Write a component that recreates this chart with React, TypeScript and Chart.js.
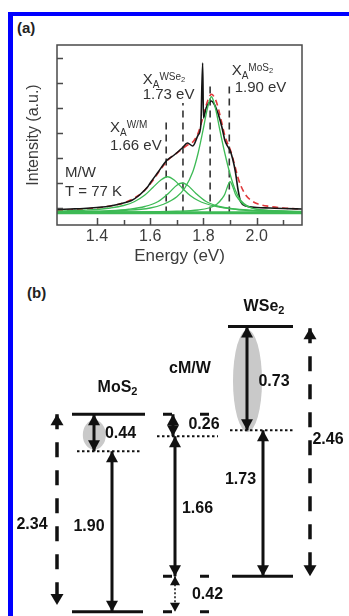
import React, { useEffect, useRef } from "react";
import { Chart, registerables } from "chart.js";

Chart.register(...registerables);

const FONT = "'Liberation Sans', Arial, Helvetica, sans-serif";

// ---------------- Panel (a): PL spectrum ----------------
const energyTicks = [1.4, 1.5, 1.6, 1.7, 1.8, 1.9, 2.0, 2.1];
const energyLabels = [1.4, 1.6, 1.8, 2.0];
const intensityTicks = [0, 1, 2, 3, 4, 5, 6];

const measuredE = [1.25, 1.3, 1.35, 1.4, 1.45, 1.5, 1.53, 1.56, 1.59, 1.6, 1.63, 1.66, 1.69, 1.72, 1.74, 1.76, 1.78, 1.79, 1.797, 1.8, 1.81, 1.82, 1.83, 1.84, 1.85, 1.86, 1.87, 1.88, 1.89, 1.9, 1.91, 1.92, 1.93, 1.94, 1.96, 2.0, 2.05, 2.1, 2.17];
const measuredI = [-0.06, -0.04, -0.02, 0.02, 0.08, 0.2, 0.3, 0.52, 0.84, 1.0, 1.44, 1.88, 2.12, 2.4, 2.6, 2.48, 2.92, 3.3, 5.8, 3.6, 4.0, 4.2, 4.28, 4.16, 3.92, 3.6, 3.2, 2.72, 2.48, 2.3, 1.95, 1.44, 0.72, 0.24, 0.08, 0.02, 0.0, -0.02, -0.04];

const fitE = [1.25, 1.3, 1.35, 1.4, 1.45, 1.5, 1.55, 1.58, 1.61, 1.64, 1.67, 1.7, 1.72, 1.74, 1.76, 1.78, 1.8, 1.81, 1.82, 1.83, 1.84, 1.85, 1.86, 1.87, 1.88, 1.89, 1.9, 1.91, 1.92, 1.93, 1.94, 1.96, 1.98, 2.0, 2.05, 2.1, 2.17];
const fitI = [-0.1, -0.08, -0.04, 0.0, 0.08, 0.2, 0.46, 0.72, 1.1, 1.56, 1.95, 2.2, 2.36, 2.52, 2.64, 3.0, 3.7, 4.1, 4.4, 4.55, 4.45, 4.2, 3.8, 3.35, 2.9, 2.6, 2.35, 2.0, 1.6, 1.2, 0.9, 0.5, 0.3, 0.18, 0.06, 0.0, -0.04];

const peakWM_E = [1.25, 1.3, 1.35, 1.4, 1.45, 1.5, 1.54, 1.58, 1.61, 1.64, 1.665, 1.69, 1.72, 1.75, 1.78, 1.81, 1.85, 1.9, 1.95, 2.0, 2.08, 2.17];
const peakWM_I = [-0.13, -0.11, -0.09, -0.06, 0.0, 0.1, 0.25, 0.52, 0.82, 1.12, 1.25, 1.12, 0.8, 0.5, 0.3, 0.17, 0.06, -0.02, -0.07, -0.1, -0.12, -0.14];

const peakWSe2_E = [1.25, 1.35, 1.45, 1.52, 1.58, 1.63, 1.67, 1.7, 1.72, 1.74, 1.77, 1.81, 1.86, 1.92, 1.99, 2.08, 2.17];
const peakWSe2_I = [-0.15, -0.14, -0.11, -0.05, 0.06, 0.26, 0.6, 0.91, 1.0, 0.91, 0.6, 0.26, 0.06, -0.05, -0.11, -0.14, -0.15];

const peakMain_E = [1.25, 1.4, 1.5, 1.6, 1.65, 1.7, 1.73, 1.76, 1.78, 1.8, 1.81, 1.82, 1.83, 1.84, 1.85, 1.86, 1.88, 1.9, 1.92, 1.94, 1.97, 2.02, 2.1, 2.17];
const peakMain_I = [-0.16, -0.14, -0.1, 0.0, 0.15, 0.45, 0.8, 1.45, 2.2, 3.2, 3.75, 4.2, 4.45, 4.2, 3.75, 3.2, 2.2, 1.35, 0.7, 0.3, 0.05, -0.08, -0.14, -0.16];

const peakMoS2_E = [1.25, 1.5, 1.7, 1.78, 1.82, 1.85, 1.87, 1.88, 1.89, 1.9, 1.91, 1.92, 1.93, 1.95, 1.98, 2.05, 2.17];
const peakMoS2_I = [-0.17, -0.16, -0.13, -0.08, 0.0, 0.15, 0.38, 0.55, 0.85, 1.05, 0.85, 0.55, 0.38, 0.15, 0.0, -0.1, -0.15];

const baselineE = [1.25, 2.17];
const baselineI = [-0.19, -0.19];

const markerE = [1.66, 1.723, 1.825, 1.897];
const markerTop = [3.44, 4.2, 4.92, 4.9];
const markerBottom = -0.22;

const excitonNames = ["W/M", "WSe₂", "MoS₂"];
const excitonEnergies = ["1.66 eV", "1.73 eV", "1.90 eV"];
const sampleLabel = "M/W";
const tempLabel = "T = 77 K";

// ---------------- Panel (b): band diagram (energies in eV, WSe2 CB drawn schematically) ----------------
const materialNames = ["MoS₂", "cM/W", "WSe₂"];
const solidLevelE = [2.34, 0, 3.38, 0.42];
const solidLevelX = [[72, 145], [72, 143], [228, 293], [232, 293]];
const excitonLevelE = [1.9, 2.08, 2.15];
const excitonLevelX = [[77, 142], [157, 218], [230, 295]];
const hetLevelE = [2.34, 0.42, 0];
const hetLevelX = [163, 213];
const gapValues = [0.44, 1.9, 0.26, 1.66, 0.42, 0.73, 1.73];
const gapFrom = [2.34, 1.9, 2.34, 2.08, 0.42, 3.38, 2.15];
const gapTo = [1.9, 0, 2.08, 0.42, 0, 2.15, 0.42];
const gapX = [94, 112, 173, 175, 175, 247, 263];
const bandGapValues = [2.34, 2.46];
const bandGapFrom = [2.34, 3.36];
const bandGapTo = [0.08, 0.42];
const bandGapX = [57, 310];
const ellipseX = [94.3, 247.5];
const ellipseHalfW = [11.5, 14.5];
const ellipseTopE = [2.27, 3.34];
const ellipseBottomE = [1.92, 2.13];

// label anchor layout
const gapLabelAt = [[120.5, 2.105], [89, 1.01], [204, 2.212], [197.5, 1.223], [207.5, 0.204], [274, 2.727], [240.5, 1.56]];
const bandGapLabelAt = [[32, 1.033], [328, 2.04]];
const materialLabelAt = [[117.5, 2.656], [190, 2.88], [264, 3.616]];

type Seg = { t: string; mode?: "sub" | "sup" | "supsub" };

function drawRich(ctx: CanvasRenderingContext2D, x: number, y: number, segs: Seg[], size: number, weight: string, color: string, align: "left" | "center", baseline: CanvasTextBaseline, smallSize?: number) {
  ctx.save();
  ctx.fillStyle = color;
  ctx.textBaseline = baseline;
  ctx.textAlign = "left";
  const small = smallSize ?? size * 0.68;
  const tiny = small * 0.75;
  const fs = (s: Seg) => (s.mode === "supsub" ? tiny : s.mode ? small : size);
  let total = 0;
  for (const s of segs) {
    ctx.font = `${weight} ${fs(s)}px ${FONT}`;
    total += ctx.measureText(s.t).width;
  }
  let cx = align === "center" ? x - total / 2 : x;
  for (const s of segs) {
    ctx.font = `${weight} ${fs(s)}px ${FONT}`;
    const dy = s.mode === "sub" ? size * 0.25 : s.mode === "sup" ? -size * 0.3 : s.mode === "supsub" ? -size * 0.12 : 0;
    ctx.fillText(s.t, cx, y + dy);
    cx += ctx.measureText(s.t).width;
  }
  ctx.restore();
}

function subscriptSegs(label: string, base: Seg["mode"] = undefined, subMode: Seg["mode"] = "sub"): Seg[] {
  const segs: Seg[] = [];
  for (const ch of label) {
    if (ch === "₂") segs.push({ t: "2", mode: subMode });
    else if (segs.length && segs[segs.length - 1].mode === base) segs[segs.length - 1].t += ch;
    else segs.push({ t: ch, mode: base });
  }
  return segs;
}

const zip = (xs: number[], ys: number[]) => xs.map((x, i) => ({ x, y: ys[i] }));

function curve(xs: number[], ys: number[], color: string, width: number, dash: number[] = []) {
  return {
    data: zip(xs, ys),
    borderColor: color,
    borderWidth: width,
    borderDash: dash,
    pointRadius: 0,
    fill: false,
    cubicInterpolationMode: "monotone" as const,
  };
}

const GREEN = "#3dba55";

const framePlugin = {
  id: "frameA",
  afterDraw(chart: any) {
    const { ctx, chartArea: a, scales } = chart;
    ctx.save();
    ctx.strokeStyle = "#4a4a4a";
    ctx.lineWidth = 1.5;
    ctx.strokeRect(a.left, a.top, a.right - a.left, a.bottom - a.top);
    ctx.beginPath();
    for (const t of scales.x.ticks) {
      const px = Math.round(scales.x.getPixelForValue(t.value)) + 0.5;
      const major = energyLabels.some((v) => Math.abs(v - t.value) < 1e-6);
      ctx.moveTo(px, a.bottom);
      ctx.lineTo(px, a.bottom - (major ? 7 : 5));
    }
    for (const t of scales.y.ticks) {
      const py = Math.round(scales.y.getPixelForValue(t.value)) + 0.5;
      ctx.moveTo(a.left, py);
      ctx.lineTo(a.left + 6, py);
    }
    ctx.stroke();
    ctx.restore();

    const x = scales.x, y = scales.y;
    const P = (e: number, v: number) => [x.getPixelForValue(e), y.getPixelForValue(v)];
    const col = "#333";
    const xa = [[1.449, 3.04], [1.572, 4.96], [1.906, 5.32]];
    const ev = [[1.449, 2.32], [1.572, 4.36], [1.917, 4.64]];
    excitonNames.forEach((name, i) => {
      const [px, py] = P(xa[i][0], xa[i][1]);
      drawRich(ctx, px, py, [{ t: "X" }, { t: "A", mode: "sub" }, ...subscriptSegs(name, "sup", "supsub")], 15, "normal", col, "left", "alphabetic", 10);
      const [qx, qy] = P(ev[i][0], ev[i][1]);
      drawRich(ctx, qx, qy, [{ t: excitonEnergies[i] }], 15, "normal", col, "left", "alphabetic");
    });
    const [sx, sy] = P(1.28, 1.24);
    drawRich(ctx, sx, sy, [{ t: sampleLabel }], 15, "normal", col, "left", "alphabetic");
    const [tx, ty] = P(1.28, 0.48);
    drawRich(ctx, tx, ty, [{ t: tempLabel }], 15, "normal", col, "left", "alphabetic");
  },
};

function drawHead(ctx: CanvasRenderingContext2D, tx: number, ty: number, fx: number, fy: number, len: number, hw: number) {
  const dx = tx - fx, dy = ty - fy;
  const d = Math.hypot(dx, dy) || 1;
  const ux = dx / d, uy = dy / d;
  const bx = tx - ux * len, by = ty - uy * len;
  ctx.beginPath();
  ctx.moveTo(tx, ty);
  ctx.lineTo(bx - uy * hw, by + ux * hw);
  ctx.lineTo(bx + uy * hw, by - ux * hw);
  ctx.closePath();
  ctx.fill();
}

const diagramPlugin = {
  id: "diagramB",
  beforeDatasetsDraw(chart: any) {
    const { ctx, scales } = chart;
    ctx.save();
    ctx.fillStyle = "#c9c9c9";
    ellipseX.forEach((cx, i) => {
      const px = scales.x.getPixelForValue(cx);
      const rx = scales.x.getPixelForValue(cx + ellipseHalfW[i]) - px;
      const top = scales.y.getPixelForValue(ellipseTopE[i]);
      const bot = scales.y.getPixelForValue(ellipseBottomE[i]);
      ctx.beginPath();
      ctx.ellipse(px, (top + bot) / 2, rx, (bot - top) / 2, 0, 0, Math.PI * 2);
      ctx.fill();
    });
    ctx.restore();
  },
  afterDatasetsDraw(chart: any) {
    const { ctx, scales } = chart;
    ctx.save();
    ctx.fillStyle = "#111";
    chart.data.datasets.forEach((ds: any, i: number) => {
      if (!ds.heads) return;
      const pts = chart.getDatasetMeta(i).data;
      const a = pts[0], b = pts[pts.length - 1];
      const [len, hw] = ds.headSize;
      if (ds.heads.start) drawHead(ctx, a.x, a.y, b.x, b.y, len, hw);
      if (ds.heads.end) drawHead(ctx, b.x, b.y, a.x, a.y, len, hw);
    });
    ctx.restore();
    const P = (x: number, e: number) => [scales.x.getPixelForValue(x), scales.y.getPixelForValue(e)];
    materialNames.forEach((n, i) => {
      const [px, py] = P(materialLabelAt[i][0], materialLabelAt[i][1]);
      drawRich(ctx, px, py, subscriptSegs(n), 16, "bold", "#111", "center", "middle", 11);
    });
    gapValues.forEach((g, i) => {
      const [px, py] = P(gapLabelAt[i][0], gapLabelAt[i][1]);
      drawRich(ctx, px, py, [{ t: g.toFixed(2) }], 16, "bold", "#111", "center", "middle");
    });
    bandGapValues.forEach((g, i) => {
      const [px, py] = P(bandGapLabelAt[i][0], bandGapLabelAt[i][1]);
      drawRich(ctx, px, py, [{ t: g.toFixed(2) }], 16, "bold", "#111", "center", "middle");
    });
  },
};

function seg(x1: number, x2: number, e1: number, e2: number, width: number, dash: number[] = [], extra: any = {}) {
  return {
    data: [{ x: x1, y: e1 }, { x: x2, y: e2 }],
    borderColor: "#111",
    borderWidth: width,
    borderDash: dash,
    pointRadius: 0,
    fill: false,
    tension: 0,
    ...extra,
  };
}

export default function App() {
  const refA = useRef<HTMLCanvasElement>(null);
  const refB = useRef<HTMLCanvasElement>(null);

  useEffect(() => {
    const dashMarker = [7, 5];
    const chartA = new Chart(refA.current!, {
      type: "line",
      data: {
        datasets: [
          curve(baselineE, baselineI, GREEN, 3),
          curve(peakWM_E, peakWM_I, GREEN, 1.3),
          curve(peakWSe2_E, peakWSe2_I, GREEN, 1.3),
          curve(peakMain_E, peakMain_I, GREEN, 1.3),
          curve(peakMoS2_E, peakMoS2_I, GREEN, 1.3),
          curve(measuredE, measuredI, "#151515", 1.6),
          curve(fitE, fitI, "#e0383a", 1.6, [6, 4]),
          ...markerE.map((e, i) => ({
            data: [{ x: e, y: markerBottom }, { x: e, y: markerTop[i] }],
            borderColor: "#333",
            borderWidth: 1.6,
            borderDash: dashMarker,
            pointRadius: 0,
            fill: false,
          })),
        ] as any,
      },
      options: {
        animation: false,
        responsive: false,
        maintainAspectRatio: false,
        layout: { padding: { top: 45, right: 47, left: 0, bottom: 0 } },
        plugins: { legend: { display: false }, tooltip: { enabled: false } },
        scales: {
          x: {
            type: "linear",
            min: 1.25,
            max: 2.17,
            grid: { display: false, drawTicks: false },
            border: { display: false },
            afterBuildTicks: (s: any) => {
              s.ticks = energyTicks.map((v) => ({ value: v }));
            },
            ticks: {
              autoSkip: false,
              maxRotation: 0,
              padding: 2,
              color: "#3c3c3c",
              font: { size: 16, family: FONT },
              callback: (v: any) => (energyLabels.some((l) => Math.abs(l - v) < 1e-6) ? Number(v).toFixed(1) : ""),
            },
            title: { display: true, text: "Energy (eV)", color: "#3c3c3c", font: { size: 17, family: FONT }, padding: { top: 0, bottom: 11 } },
            afterFit: (s: any) => {
              s.height = 53;
            },
          },
          y: {
            type: "linear",
            min: -0.68,
            max: 6.52,
            grid: { display: false, drawTicks: false },
            border: { display: false },
            afterBuildTicks: (s: any) => {
              s.ticks = intensityTicks.map((v) => ({ value: v }));
            },
            ticks: { display: false },
            title: { display: true, text: "Intensity (a.u.)", color: "#3c3c3c", font: { size: 16, family: FONT }, padding: { top: 24, bottom: 0 } },
            afterFit: (s: any) => {
              s.width = 57;
            },
          },
        },
      } as any,
      plugins: [framePlugin],
    });

    const dsB: any[] = [];
    solidLevelE.forEach((e, i) => dsB.push(seg(solidLevelX[i][0], solidLevelX[i][1], e, e, 3)));
    excitonLevelE.forEach((e, i) => dsB.push(seg(excitonLevelX[i][0], excitonLevelX[i][1], e, e, 2, [2.5, 2.5])));
    hetLevelE.forEach((e) => dsB.push(seg(hetLevelX[0], hetLevelX[1], e, e, 3, [9, 28])));
    gapValues.forEach((g, i) => {
      const dotted = i === 4;
      dsB.push(
        seg(gapX[i], gapX[i], gapFrom[i], gapTo[i], dotted ? 1.5 : 3, dotted ? [2, 2] : [], {
          heads: { start: true, end: true },
          headSize: dotted ? [9, 5] : [11, 6],
        })
      );
    });
    bandGapValues.forEach((g, i) => {
      dsB.push(
        seg(bandGapX[i], bandGapX[i], bandGapFrom[i], bandGapTo[i], 3.5, [15, 13], {
          heads: { start: true, end: true },
          headSize: [11, 6.5],
        })
      );
    });

    const chartB = new Chart(refB.current!, {
      type: "line",
      data: { datasets: dsB },
      options: {
        animation: false,
        responsive: false,
        maintainAspectRatio: false,
        layout: { padding: 0 },
        plugins: { legend: { display: false }, tooltip: { enabled: false } },
        scales: {
          x: { type: "linear", min: 0, max: 349, display: false },
          y: { type: "linear", min: -0.051, max: 3.954, display: false },
        },
      } as any,
      plugins: [diagramPlugin],
    });

    return () => {
      chartA.destroy();
      chartB.destroy();
    };
  }, []);

  return (
    <div style={{ position: "fixed", left: 0, top: 0, width: 349, height: 616, overflow: "hidden", background: "#fff", fontFamily: FONT }}>
      <div style={{ position: "absolute", left: 8, top: 12, width: 5, height: 604, background: "#0000ff" }} />
      <div style={{ position: "absolute", left: 8, top: 12, width: 341, height: 4, background: "#0000ff" }} />
      <div style={{ position: "absolute", left: 17, top: 19, fontWeight: "bold", fontSize: 15, color: "#222" }}>(a)</div>
      <div style={{ position: "absolute", left: 27, top: 284, fontWeight: "bold", fontSize: 15, color: "#222" }}>(b)</div>
      <canvas ref={refA} width={349} height={278} style={{ position: "absolute", left: 0, top: 0 }} />
      <canvas ref={refB} width={349} height={338} style={{ position: "absolute", left: 0, top: 278 }} />
    </div>
  );
}
